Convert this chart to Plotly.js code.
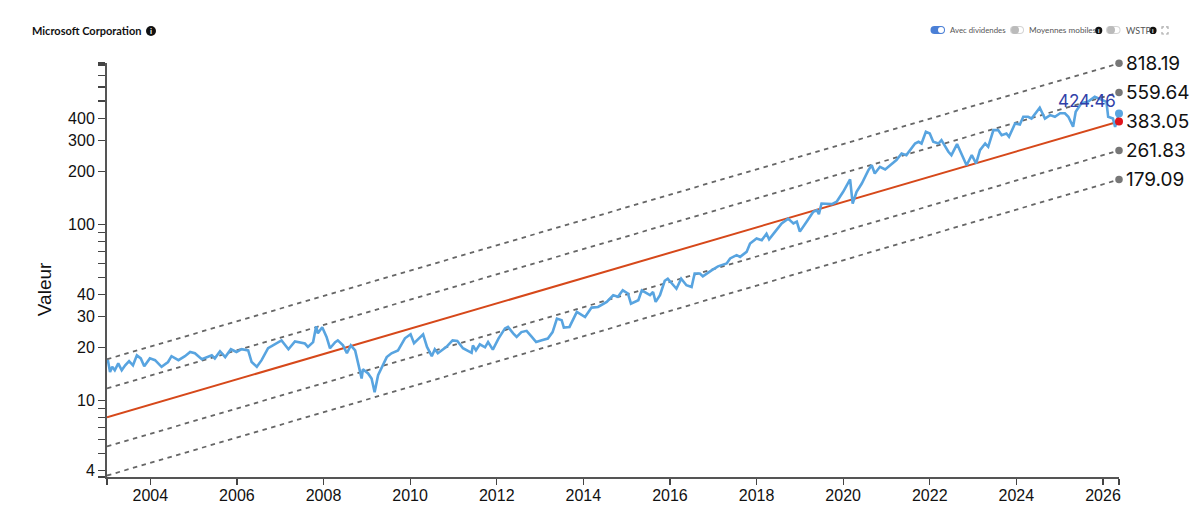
<!DOCTYPE html>
<html><head><meta charset="utf-8">
<script src="https://cdn.plot.ly/plotly-3.0.1.min.js"></script>
<style>html,body{margin:0;padding:0;background:#fff}#chart{width:1200px;height:507px}</style>
</head><body><div id="chart"></div>
<script>
const priceYears=[2003.00,2003.02,2003.07,2003.12,2003.18,2003.26,2003.34,2003.42,2003.51,2003.60,2003.69,2003.78,2003.86,2003.99,2004.11,2004.26,2004.41,2004.49,2004.65,2004.80,2004.92,2005.03,2005.19,2005.42,2005.49,2005.61,2005.73,2005.86,2005.99,2006.11,2006.26,2006.34,2006.46,2006.57,2006.72,2006.95,2007.03,2007.19,2007.34,2007.57,2007.64,2007.76,2007.83,2007.87,2007.97,2008.07,2008.15,2008.27,2008.33,2008.45,2008.54,2008.63,2008.73,2008.80,2008.88,2008.91,2009.03,2009.11,2009.18,2009.26,2009.34,2009.46,2009.57,2009.72,2009.88,2010.01,2010.09,2010.30,2010.39,2010.50,2010.57,2010.64,2010.84,2010.98,2011.09,2011.22,2011.42,2011.45,2011.52,2011.61,2011.73,2011.80,2011.91,2012.04,2012.19,2012.26,2012.38,2012.46,2012.57,2012.69,2012.81,2012.91,2013.04,2013.18,2013.29,2013.39,2013.50,2013.55,2013.68,2013.85,2014.04,2014.19,2014.34,2014.54,2014.69,2014.80,2014.91,2015.03,2015.10,2015.27,2015.35,2015.46,2015.54,2015.61,2015.67,2015.77,2015.83,2015.88,2015.95,2016.07,2016.15,2016.26,2016.38,2016.50,2016.57,2016.69,2016.76,2016.96,2017.11,2017.31,2017.39,2017.54,2017.62,2017.77,2017.85,2018.00,2018.12,2018.23,2018.29,2018.43,2018.58,2018.73,2018.85,2018.93,2019.00,2019.16,2019.31,2019.39,2019.44,2019.50,2019.62,2019.74,2019.85,2019.93,2020.00,2020.16,2020.22,2020.31,2020.43,2020.58,2020.66,2020.73,2020.85,2020.97,2021.08,2021.17,2021.23,2021.35,2021.46,2021.66,2021.74,2021.81,2021.91,2022.00,2022.08,2022.20,2022.27,2022.43,2022.50,2022.63,2022.74,2022.85,2022.97,2023.07,2023.16,2023.28,2023.35,2023.47,2023.58,2023.66,2023.77,2023.83,2023.97,2024.08,2024.16,2024.27,2024.35,2024.54,2024.66,2024.78,2024.89,2025.01,2025.12,2025.20,2025.31,2025.37,2025.50,2025.65,2025.81,2025.96,2026.08,2026.12,2026.23,2026.28,2026.37];
const priceValues=[16.5,16.9,14.5,15.5,14.8,16.2,14.8,15.8,16.7,15.8,18,17.3,15.6,17.3,16.9,15.5,16.5,17.8,16.9,17.8,18.8,18.5,17.1,18,17.3,19,17.6,19.5,18.8,19.5,19.2,16.5,15.5,16.9,19.75,21.4,21.9,19.5,21.6,21,20.1,21.4,26.3,24,26,22.9,19.75,21.4,21.9,20.5,18.5,20.5,19.2,16.2,13.3,15,14.2,13.3,11.1,13.9,15.2,17.6,18.5,19.2,22.5,23.7,21.1,23.7,20.1,17.8,19.5,18.5,20.1,21.9,21.7,19.75,18.6,20.5,19.2,20.8,20,21.4,19.4,22.4,25.6,26.1,24,22.9,24.4,24.8,22.9,21.4,21.9,22.4,24.4,29.1,28.5,25.9,26.1,31.8,29.7,33.6,33.9,36.2,39.5,38.7,42.1,40.4,35.4,37,42.1,40.4,39.5,41.2,36.2,39.5,44,47.7,49,45,43,49,45,44,52.5,52.5,50.6,54.7,57.6,59.8,63.9,66.7,65.2,69.6,77.7,83,81,88.2,82,90.7,101,107.5,101,103.5,90.7,103.5,117.7,120,114,131,131,130,134,144,152.6,179.5,131,152.6,170,202,216,194,211.6,204.6,216,226,231,252,246.6,287,293.5,287,334.6,327,293.5,287,300,257.6,246.6,285,246.6,216,246.6,221,263,287,275,342,342,320,327,313,373,368,407,407,398,458,398,416,407,426,426,407,357,435,485,495,529,507,495,407,398,357,424.46];
const trendYears=[2003,2026.37];
const upper2=[17.1,818.19];
const upper1=[11.69,559.64];
const centre=[8,383.05];
const lower1=[5.47,261.83];
const lower2=[3.74,179.09];
const xTickVals=[2003,2004,2006,2008,2010,2012,2014,2016,2018,2020,2022,2024,2026,2026.37];
const xTickText=['','2004','2006','2008','2010','2012','2014','2016','2018','2020','2022','2024','2026',''];
const yTickVals=[3.67,4,5,6,7,8,9,10,20,30,40,50,60,70,80,90,100,200,300,400,500,600,700,800,822];
const yTickText=['','4','','','','','','10','20','30','40','','','','','','100','200','300','400','','','','',''];
const chartTitle='Microsoft Corporation';
const yTitle='Valeur';
const toggleLabels=['Avec dividendes','Moyennes mobiles','WSTP'];
const lastPrice=424.46;

const L=107,R=1119,T=63,B=476.7;
const px=x=>(x-L)/(R-L), py=y=>(B-y)/(B-T);
const dot=(cx,cy,r,fill,line)=>({type:'circle',xref:'paper',yref:'paper',x0:px(cx-r),x1:px(cx+r),y0:py(cy+r),y1:py(cy-r),fillcolor:fill,line:{width:line?1:0,color:line||fill}});
const box=(x0,x1,y0,y1,fill,line)=>({type:'rect',xref:'paper',yref:'paper',x0:px(x0),x1:px(x1),y0:py(y1),y1:py(y0),fillcolor:fill,line:{width:0}});
const pill=(x0,x1,cy,h,fill)=>[dot(x0+h/2,cy,h/2,fill),dot(x1-h/2,cy,h/2,fill),box(x0+h/2,x1-h/2,cy-h/2,cy+h/2,fill)];
const corner=(a,b,c,d,e,f)=>({type:'path',xref:'paper',yref:'paper',path:`M${px(a)},${py(b)} L${px(c)},${py(d)} L${px(e)},${py(f)}`,line:{color:'#aaa',width:1.2}});
const shapes=[
 ...pill(930.5,945,30,8,'#4a7fd6'),dot(941,30,3,'#fff'),
 ...pill(1010,1024,30,8,'#d4d4d4'),...pill(1011,1023,30,6,'#fff'),dot(1015,30,4,'#bbb'),
 ...pill(1106,1120.5,30,8,'#d4d4d4'),...pill(1107,1119.5,30,6,'#fff'),dot(1111,30,4,'#bbb'),
 dot(151,31,5,'#111'),dot(1098.7,30.5,3.6,'#111'),dot(1153,30.5,3.6,'#111'),
 corner(1162,29,1162,27,1164,27),corner(1166,27,1168,27,1168,29),corner(1162,32,1162,34,1164,34),corner(1166,34,1168,34,1168,32)
];
const note=(x,y,text,size,color,anchor,extra)=>Object.assign({xref:'paper',yref:'paper',x:px(x),y:py(y),text,showarrow:false,xanchor:anchor||'left',yanchor:'middle',font:{family:'Lato, sans-serif',size,color}},extra||{});
const endNote=(v)=>({xref:'x',yref:'y',x:2026.37,y:Math.log10(v),text:v.toFixed(2),showarrow:false,xanchor:'left',yanchor:'middle',xshift:5,font:{family:'Inter, sans-serif',size:19,color:'#111'}});
const annotations=[
 note(30,31,'<b>'+chartTitle+'</b>',11,'#111'),
 note(151,31,'<b>i</b>',8,'#fff','center'),
 note(1098.7,30.5,'<b>i</b>',6,'#fff','center'),
 note(1153,30.5,'<b>i</b>',6,'#fff','center'),
 note(948,30.5,toggleLabels[0],7.8,'#555'),
 note(1027,30.5,toggleLabels[1],8.2,'#555'),
 note(1124,30.5,toggleLabels[2],9,'#555'),
 {xref:'paper',yref:'paper',x:px(44),y:py(289),text:yTitle,textangle:-90,showarrow:false,xanchor:'center',yanchor:'middle',font:{family:'"Liberation Sans", Arial, sans-serif',size:19,color:'#111'}},
 endNote(818.19),endNote(559.64),endNote(383.05),endNote(261.83),endNote(179.09),
 {xref:'x',yref:'y',x:2026.37,y:Math.log10(lastPrice),text:lastPrice.toFixed(2),showarrow:false,xanchor:'center',yanchor:'middle',xshift:-32,yshift:13,font:{family:'Inter, sans-serif',size:17,color:'#3040a8'}}
];
const dash=(y)=>({x:trendYears,y,mode:'lines',cliponaxis:false,line:{color:'#666',width:1.8,dash:'4.5px,4.5px'},hoverinfo:'skip'});
const endDot=(y,color,size)=>({x:[trendYears[1]],y:[y],mode:'markers',cliponaxis:false,marker:{color,size},hoverinfo:'skip'});
const traces=[
 dash(upper2),dash(upper1),dash(lower1),dash(lower2),
 {x:trendYears,y:centre,mode:'lines',cliponaxis:false,line:{color:'#d6481a',width:2}},
 {x:priceYears,y:priceValues,mode:'lines',cliponaxis:false,line:{color:'#58a4e0',width:2.6}},
 endDot(upper2[1],'#777',7.5),endDot(upper1[1],'#777',7.5),endDot(lower1[1],'#777',7.5),endDot(lower2[1],'#777',7.5),
 endDot(lastPrice,'#58a4e0',8),endDot(centre[1],'#e0141c',8)
];
const axisFont={family:'"Liberation Sans", Arial, sans-serif',size:16,color:'#111'};
const layout={
 width:1200,height:507,showlegend:false,paper_bgcolor:'#fff',plot_bgcolor:'#fff',
 margin:{l:L,r:1200-R,t:T,b:507-B,pad:0},
 xaxis:{type:'linear',range:[2003,2026.37],tickmode:'array',tickvals:xTickVals,ticktext:xTickText,ticks:'outside',ticklen:6,tickcolor:'#444',tickwidth:1.2,showgrid:false,zeroline:false,showline:true,linecolor:'#555',linewidth:1.5,tickfont:axisFont,ticklabelstandoff:-3},
 yaxis:{type:'log',range:[Math.log10(3.67),Math.log10(822)],tickmode:'array',tickvals:yTickVals,ticktext:yTickText,ticks:'outside',ticklen:7,tickcolor:'#444',tickwidth:1.2,showgrid:false,zeroline:false,showline:true,linecolor:'#555',linewidth:2,tickfont:axisFont},
 shapes,annotations
};
Plotly.newPlot('chart',traces,layout,{displayModeBar:false,staticPlot:true});
</script></body></html>
